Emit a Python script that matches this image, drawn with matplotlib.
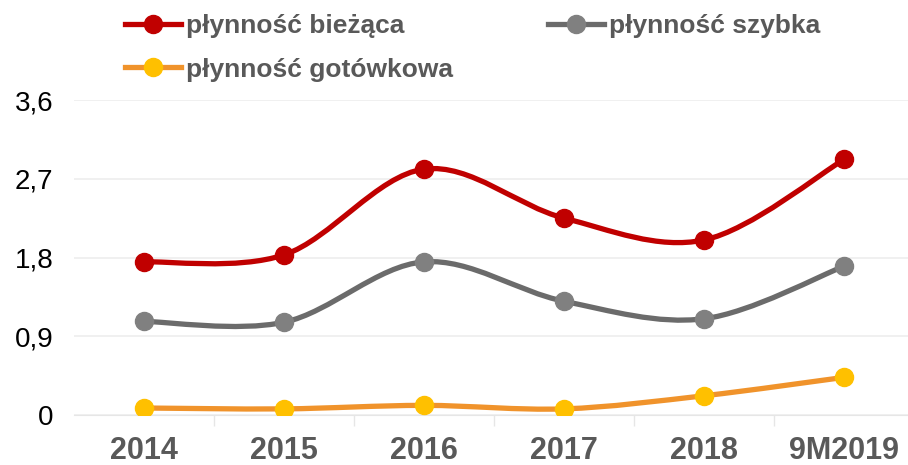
import numpy as np
from matplotlib import pyplot as plt
from matplotlib.path import Path
from matplotlib.patches import PathPatch
from matplotlib.lines import Line2D

# dane
lata = ['2014', '2015', '2016', '2017', '2018', '9M2019']
biezaca = [1.75, 1.83, 2.81, 2.25, 2.00, 2.92]
szybka = [1.07, 1.06, 1.75, 1.30, 1.10, 1.70]
gotowkowa = [0.08, 0.07, 0.11, 0.07, 0.22, 0.43]
yticks = [0, 0.9, 1.8, 2.7, 3.6]
ytick_labels = ['0', '0,9', '1,8', '2,7', '3,6']

serie = [
    ('płynność bieżąca', biezaca, '#C00000', '#C00000'),
    ('płynność szybka', szybka, '#6B6B6B', '#808080'),
    ('płynność gotówkowa', gotowkowa, '#F0932B', '#FFC000'),
]

plt.rcParams['font.family'] = ['Liberation Sans', 'DejaVu Sans']

fig = plt.figure(figsize=(9.08, 4.65), dpi=100)
ax = fig.add_axes([74 / 908, 50 / 465, 840 / 908, 315 / 465])


def smooth_path(xs, ys):
    # gładka krzywa Beziera jak w Excelu (Catmull-Rom)
    pts = np.column_stack([xs, ys]).astype(float)
    verts = [pts[0]]
    codes = [Path.MOVETO]
    n = len(pts)
    for i in range(n - 1):
        p0 = pts[max(i - 1, 0)]
        p1 = pts[i]
        p2 = pts[i + 1]
        p3 = pts[min(i + 2, n - 1)]
        c1 = p1 + (p2 - p0) / 6.0
        c2 = p2 - (p3 - p1) / 6.0
        verts += [c1, c2, p2]
        codes += [Path.CURVE4] * 3
    return Path(verts, codes)


x = np.arange(len(lata))
handles = []
for nazwa, vals, kolor_linii, kolor_pkt in serie:
    patch = PathPatch(smooth_path(x, vals), facecolor='none', edgecolor=kolor_linii,
                      lw=3.8, capstyle='round', joinstyle='round', zorder=3)
    ax.add_patch(patch)
    ax.plot(x, vals, 'o', color=kolor_pkt, markersize=13, zorder=4)
    handles.append(Line2D([], [], color=kolor_linii, lw=3.8, marker='o',
                          markersize=13, markerfacecolor=kolor_pkt,
                          markeredgecolor=kolor_pkt))

ax.set_xlim(-0.5, 5.5)
ax.set_ylim(0, 3.6)
ax.set_yticks(yticks)
ax.set_yticklabels(ytick_labels, fontsize=20)
ax.set_xticks(x)
ax.set_xticklabels(lata, fontsize=22, fontweight='bold', color='#595959')
ax.set_xticks(np.arange(0.5, 5.5, 1), minor=True)
ax.tick_params(axis='x', which='major', length=0, pad=15)
ax.tick_params(axis='x', which='minor', length=8, color='#E6E6E6', width=1)
ax.tick_params(axis='y', length=0, pad=15)
ax.grid(axis='y', color='#EDEDED', lw=1.2)
ax.set_axisbelow(True)
for s in ['top', 'right', 'left']:
    ax.spines[s].set_visible(False)
ax.spines['bottom'].set_color('#E6E6E6')

# kolejnosc wierszami: biezaca, szybka / gotowkowa
kolej = [0, 2, 1]
fig.legend([handles[i] for i in kolej], [serie[i][0] for i in kolej], ncol=2,
           loc='upper left', bbox_to_anchor=(107 / 908, 1.01), frameon=False,
           prop={'size': 19, 'weight': 'bold'}, labelcolor='#595959',
           handlelength=2.1, handletextpad=0.2, columnspacing=3.6,
           labelspacing=0.75, borderaxespad=0.3)

plt.savefig('out.png', dpi=100)
